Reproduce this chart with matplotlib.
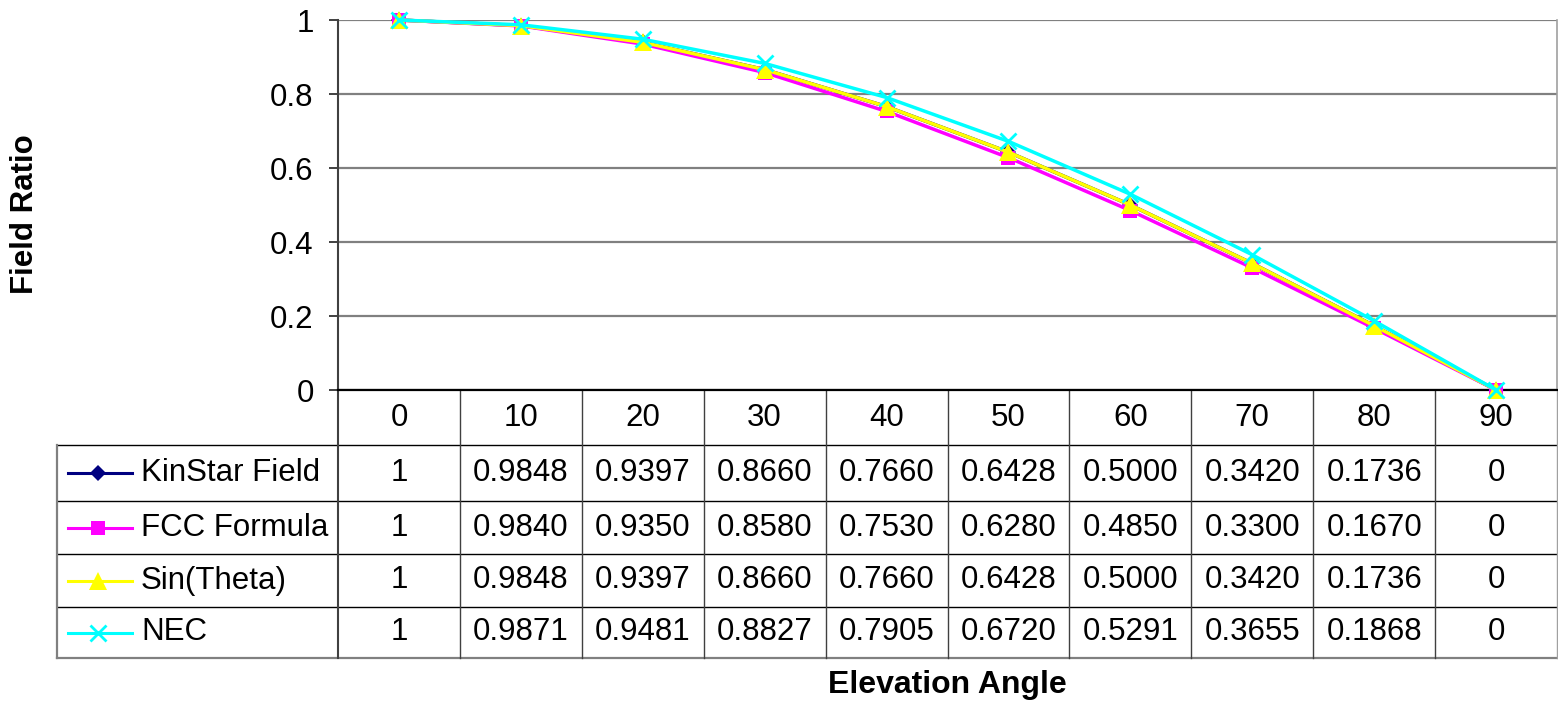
import matplotlib
matplotlib.use("Agg")
import matplotlib.pyplot as plt

plt.rcParams['font.family'] = ['Liberation Sans', 'DejaVu Sans']

# Elevation angles (degrees) and field ratios for each method
angles = [0, 10, 20, 30, 40, 50, 60, 70, 80, 90]
kinstar = [1, 0.9848, 0.9397, 0.8660, 0.7660, 0.6428, 0.5000, 0.3420, 0.1736, 0]
fcc = [1, 0.9840, 0.9350, 0.8580, 0.7530, 0.6280, 0.4850, 0.3300, 0.1670, 0]
sin_theta = [1, 0.9848, 0.9397, 0.8660, 0.7660, 0.6428, 0.5000, 0.3420, 0.1736, 0]
nec = [1, 0.9871, 0.9481, 0.8827, 0.7905, 0.6720, 0.5291, 0.3655, 0.1868, 0]

series_names = ["KinStar Field", "FCC Formula", "Sin(Theta)", "NEC"]
series_values = [kinstar, fcc, sin_theta, nec]
y_ticks = [0, 0.2, 0.4, 0.6, 0.8, 1]
y_tick_labels = ["0", "0.2", "0.4", "0.6", "0.8", "1"]

styles = [
    dict(color="#000080", marker="D", ms=8.5, mew=0),
    dict(color="#FF00FF", marker="s", ms=10, mew=0),
    dict(color="#FFFF00", marker="^", ms=12.5, mew=0),
    dict(color="#00FFFF", marker="x", ms=11, mew=2),
]

W, H = 1558, 703
fig = plt.figure(figsize=(W / 100, H / 100), dpi=100)
L, R, T, B = 338, 1557, 20, 390
ax = fig.add_axes([L / W, 1 - B / H, (R - L) / W, (B - T) / H])

FS = 22.5
colw = (R - L) / len(angles)


def fy(py):
    # figure-pixel row -> axes fraction
    return (B - py) / (B - T)


def fx(px):
    # figure-pixel column -> category data coordinate
    return (px - L) / colw - 0.5


xs = list(range(len(angles)))
for vals, st in zip(series_values, styles):
    ax.plot(xs, vals, color=st["color"], lw=2.5, marker=st["marker"],
            ms=st["ms"], mew=st["mew"], mec=st["color"], mfc=st["color"],
            zorder=3, clip_on=False)

ax.set_xlim(-0.5, len(angles) - 0.5)
ax.set_ylim(0, 1)
ax.set_yticks(y_ticks)
ax.set_yticklabels(y_tick_labels, fontsize=FS)
ax.set_xticks([])
ax.tick_params(axis="y", length=6.5, width=1.2, pad=11, color="#202020")
ax.yaxis.grid(True, color="#808080", lw=1.6)
ax.set_axisbelow(True)
ax.spines["top"].set_visible(False)
ax.spines["right"].set_color("#a0a0a0")
ax.spines["right"].set_linewidth(1.2)
ax.spines["left"].set_color("#404040")
ax.spines["left"].set_linewidth(1.5)
ax.spines["bottom"].set_color("#000000")
ax.spines["bottom"].set_linewidth(1.6)

# Data table below the axes
tr = ax.get_xaxis_transform()
row_edges = [390, 445, 501, 554, 607, 658]
x_left = fx(57)
x_right = len(angles) - 0.5

# horizontal rules
for py in row_edges[1:]:
    last = py == row_edges[-1]
    ax.plot([x_left, x_right], [fy(py), fy(py)],
            color="#808080" if last else "#000000", lw=1.6 if last else 1.0,
            transform=tr, clip_on=False)
# vertical rules
for i in range(len(angles) + 1):
    xv = i - 0.5
    col = "#a0a0a0" if i == len(angles) else "#404040"
    ax.plot([xv, xv], [fy(row_edges[0]), fy(row_edges[-1])], color=col,
            lw=1.0 if i else 1.5, transform=tr, clip_on=False)
ax.plot([x_left, x_left], [fy(row_edges[1]), fy(row_edges[-1])],
        color="#808080", lw=1.6, transform=tr, clip_on=False)

# header row: angles
hy = fy((row_edges[0] + row_edges[1]) / 2)
for x, a in zip(xs, angles):
    ax.text(x, hy, str(a), transform=tr, ha="center", va="center",
            fontsize=FS, clip_on=False)


def fmt(v):
    if v == 0 or v == 1:
        return str(int(v))
    return f"{v:.4f}"


for r, (name, vals, st) in enumerate(zip(series_names, series_values, styles)):
    cy = fy((row_edges[r + 1] + row_edges[r + 2]) / 2)
    for x, v in zip(xs, vals):
        ax.text(x, cy, fmt(v), transform=tr, ha="center", va="center",
                fontsize=FS, clip_on=False)
    # legend key
    ax.plot([fx(68), fx(132)], [cy, cy], color=st["color"], lw=2.2,
            transform=tr, clip_on=False)
    ax.plot([fx(98)], [cy], color=st["color"], marker=st["marker"],
            ms=st["ms"], mew=st["mew"], mec=st["color"], mfc=st["color"],
            transform=tr, clip_on=False)
    ax.text(fx(141), cy, name, transform=tr, ha="left", va="center",
            fontsize=FS, clip_on=False)

fig.text(25 / W, 1 - 214 / H, "Field Ratio", rotation=90, ha="center",
         va="center", fontsize=FS, fontweight="bold")
fig.text(947 / W, 1 - 685 / H, "Elevation Angle", ha="center", va="center",
         fontsize=FS + 0.5, fontweight="bold")

fig.savefig("out.png", dpi=100, facecolor="white")
